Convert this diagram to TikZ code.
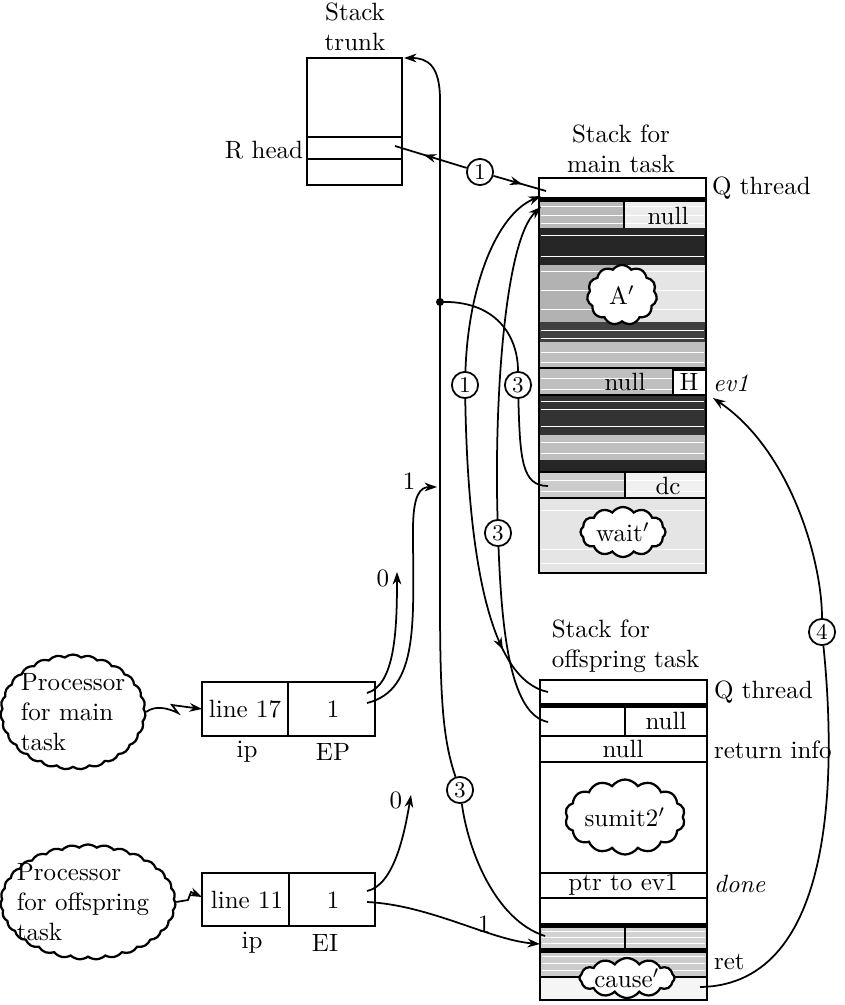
\documentclass[tikz,border=0pt]{standalone}
\usetikzlibrary{shapes.symbols,arrows.meta,decorations.markings}

\begin{document}
\begin{tikzpicture}[x=0.4pt,y=-0.4pt,
    box/.style={line width=1.1pt},
    heavy/.style={line width=2pt},
    link/.style={line width=0.7pt},
    ptr/.style={link,-{Stealth[length=5pt,width=3.5pt]}},
    midarr/.style={link,postaction={decorate},decoration={markings,mark=at position #1 with {\arrow{Stealth[length=5pt,width=3.5pt]}}}},
    circnum/.style={circle,draw,line width=0.7pt,fill=white,inner sep=0pt,minimum size=10.5pt,font=\small},
    blob/.style={cloud,draw,line width=0.9pt,fill=white,cloud puffs=#1,cloud puff arc=110,cloud ignores aspect,inner sep=0pt},
    wavy/.style={cloud,draw,line width=0.9pt,fill=white,cloud puffs=#1,cloud puff arc=80,cloud ignores aspect,inner sep=0pt},
    side/.style={anchor=west,inner sep=1pt}]

\useasboundingbox (0,0) rectangle (845,1005);
\fill[white] (0,0) rectangle (845,1005);

\draw[box] (307,58) rectangle (402,185);
\draw[box] (307,137) -- (402,137) (307,159) -- (402,159);
\node[align=center] (trunktitle) at (355,27) {Stack\\trunk};
\node[anchor=east,inner sep=1pt] (rheadlbl) at (306,150) {R head};
\coordinate (rhead) at (395,146);
\coordinate (trunktop) at (404,58);

\fill[gray!55] (539,202) rectangle (624,228);
\fill[gray!15] (624,202) rectangle (706,228);
\fill[black!85] (539,228) rectangle (706,265);
\fill[gray!60] (539,265) rectangle (622,322);
\fill[gray!20] (622,265) rectangle (706,322);
\fill[black!75] (539,322) rectangle (706,342);
\fill[gray!50] (539,342) rectangle (706,368);
\fill[gray!50] (539,368) rectangle (673,395);
\fill[black!80] (539,395) rectangle (706,435);
\fill[gray!50] (539,435) rectangle (706,460);
\fill[black!85] (539,460) rectangle (706,472);
\fill[gray!40] (539,472) rectangle (625,498);
\fill[gray!12] (625,472) rectangle (706,498);
\fill[gray!20] (539,498) rectangle (706,573);
\foreach \y in {207,216,224,236,257,272,290,309,330,338,352,362,378,389,401,409,426,442,453,480,491,510,549,563}
  \draw[white,line width=0.4pt] (541,\y) -- (704,\y);

\draw[box] (539,178) rectangle (706,573);
\draw[heavy] (539,200) -- (706,200);
\draw[box] (624,202) -- (624,228);
\draw[box] (539,368) -- (706,368) (539,395) -- (706,395);
\draw[box,fill=white] (673,370) rectangle (706,395);
\draw[box] (539,472) -- (706,472) (539,498) -- (706,498) (625,472) -- (625,498);
\node[align=center] (maintitle) at (621,149) {Stack for\\main task};
\node at (668,216) {null};
\node at (625,382) {null};
\node at (689,382) {H};
\node at (668,486) {dc};
\node[side] (mqlbl) at (709,188) {Q thread};
\node[side] (evlbl) at (710,383) {\textit{ev1}};
\node[blob=11] (acloud) at (622,295) [minimum width=28pt,minimum height=24pt] {};
\node at (acloud) {A$'$};
\node[blob=12] (waitcloud) at (623,532) [minimum width=34pt,minimum height=20pt] {};
\node at (waitcloud) {wait$'$};
\coordinate (mQ) at (546,191);
\coordinate (mQin) at (541,196);
\coordinate (mNull) at (541,207);
\coordinate (mdc) at (548,486);
\coordinate (ev1) at (713,398);

\fill[gray!35] (540,927) rectangle (707,950);
\fill[gray!40] (540,950) rectangle (707,977);
\fill[gray!8] (540,977) rectangle (707,1000);
\foreach \y in {931,937,943,956,963,970}
  \draw[white,line width=0.4pt] (542,\y) -- (705,\y);
\draw[box] (540,680) rectangle (707,1000);
\draw[heavy] (540,705) -- (707,705);
\draw[box] (540,736) -- (707,736) (540,762) -- (707,762) (540,873) -- (707,873) (540,898) -- (707,898);
\draw[heavy] (540,925) -- (707,925) (540,950) -- (707,950);
\draw[box] (540,977) -- (707,977);
\draw[box] (625,705) -- (625,736) (625,925) -- (625,950);
\node[align=left,anchor=west] (offtitle) at (543,646) {Stack for\\offspring task};
\node at (666,721) {null};
\node at (623,749) {null};
\node at (623,885) {ptr to ev1};
\node[side] (oqlbl) at (711,692) {Q thread};
\node[side] (retinfo) at (711,750) {return info};
\node[side] (donelbl) at (711,884) {\textit{done}};
\node[side] (retlbl) at (711,962) {ret};
\node[blob=14] (sumcloud) at (625,817) [minimum width=48pt,minimum height=30pt] {};
\node at (sumcloud) {sumit2$'$};
\node[blob=12] (causecloud) at (627,978) [minimum width=38pt,minimum height=16pt] {};
\node at (causecloud) {cause$'$};
\coordinate (oQ) at (548,692);
\coordinate (oNull) at (548,722);
\coordinate (oShade) at (545,936);
\coordinate (oShadeB) at (540,944);
\coordinate (oRet) at (700,987);

\draw[box] (202,682) rectangle (375,736);
\draw[box] (288,682) -- (288,736);
\node at (245,709) {line 17};
\node at (333,709) {1};
\node at (247,752) {ip};
\node at (333,752) {EP};
\coordinate (ipmain) at (202,709);
\coordinate (ep0) at (367,693);
\coordinate (ep1) at (367,703);
\coordinate (epzero) at (397,572);
\coordinate (epone) at (437,487);

\draw[box] (202,873) rectangle (375,926);
\draw[box] (289,873) -- (289,926);
\node at (247,900) {line 11};
\node at (333,900) {1};
\node at (252,943) {ip};
\node at (325,943) {EI};
\coordinate (ipoff) at (202,897);
\coordinate (ei0) at (367,891);
\coordinate (ei1) at (367,902);
\coordinate (eizero) at (411,795);

\node[wavy=27] (procmain) at (73,712) [minimum width=58pt,minimum height=46pt] {};
\node[align=left,anchor=west] at (12,712) {Processor\\for main\\task};
\node[wavy=31] (procoff) at (88,902) [minimum width=70pt,minimum height=46pt] {};
\node[align=left,anchor=west] at (8,902) {Processor\\for offspring\\task};

\node[circnum] (c1a) at (480,172) {1};
\node[circnum] (c1b) at (465,385) {1};
\node[circnum] (c3a) at (518,385) {3};
\node[circnum] (c3b) at (498,533) {3};
\node[circnum] (c3c) at (460,790) {3};
\node[circnum] (c4) at (822,632) {4};
\coordinate (trunkdot) at (440,302);

\draw[midarr=0.6] (c1a) -- (rhead);
\draw[midarr=0.55] (c1a) -- (mQ);

\draw[link] (oShade) .. controls (495,920) and (468,850) .. (c3c);
\draw[ptr] (c3c) .. controls (443,740) and (440,700) .. (440,600) -- (440,100) .. controls (440,66) and (428,58) .. (trunktop);
\fill (trunkdot) circle[radius=1.6pt];
\draw[link] (trunkdot) .. controls (495,300) and (518,335) .. (c3a);
\draw[link] (c3a) .. controls (520,460) and (522,486) .. (mdc);

\draw[ptr] (c1b) .. controls (468,290) and (495,215) .. (mQin);
\draw[midarr=0.8] (c1b) .. controls (468,560) and (490,680) .. (oQ);
\draw[ptr] (c3b) .. controls (494,400) and (505,240) .. (mNull);
\draw[link] (c3b) .. controls (502,640) and (512,715) .. (oNull);

\draw[link] (oRet) .. controls (840,985) and (835,760) .. (c4);
\draw[ptr] (c4) .. controls (822,560) and (790,450) .. (ev1);

\draw[ptr] (procmain.east) .. controls (155,705) and (168,708) .. (178,713) -- (172,705) -- (ipmain);
\draw[ptr] (procoff.east) -- (188,900) -- (191,892) -- (ipoff);

\draw[ptr] (ep0) .. controls (395,685) and (397,630) .. (epzero);
\node[anchor=east,inner sep=1pt] at (392,578) {0};
\draw[ptr] (ep1) .. controls (420,690) and (413,620) .. (413,530) .. controls (413,495) and (420,487) .. (epone);
\node at (409,481) {1};
\draw[ptr] (ei0) .. controls (395,885) and (405,830) .. (eizero);
\node[anchor=east,inner sep=1pt] at (405,800) {0};
\draw[ptr] (ei1) .. controls (430,905) and (490,940) .. (oShadeB);
\node at (484,924) {1};
\end{tikzpicture}
\end{document}
